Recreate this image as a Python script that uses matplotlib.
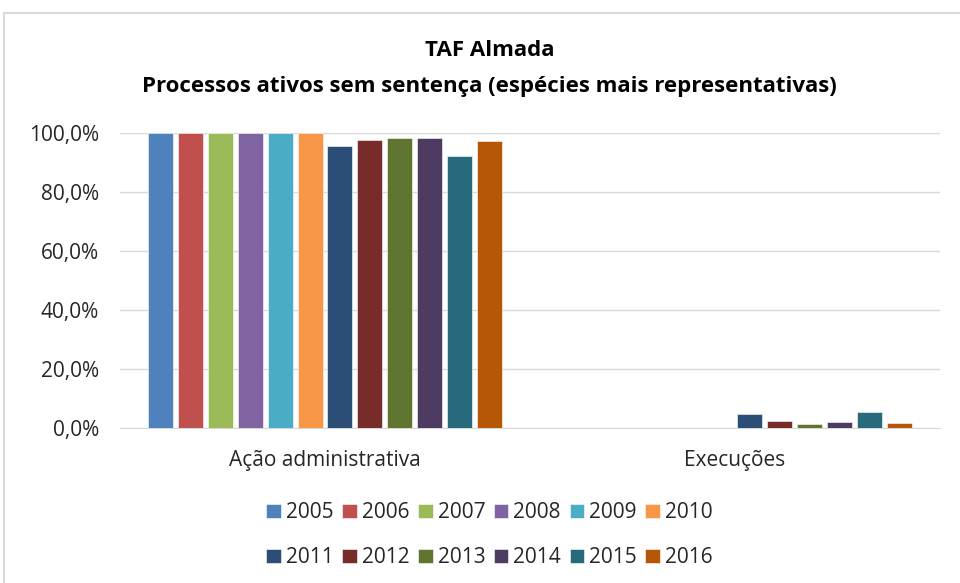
import numpy as np
import matplotlib
matplotlib.use("Agg")
import matplotlib.pyplot as plt
from matplotlib.patches import Rectangle
from matplotlib.ticker import FuncFormatter

plt.rcParams['font.family'] = ['Open Sans', 'DejaVu Sans']

categories = ["Ação administrativa", "Execuções"]
years = ["2005", "2006", "2007", "2008", "2009", "2010",
         "2011", "2012", "2013", "2014", "2015", "2016"]
# share of active cases without sentence, per year: [Ação administrativa, Execuções]
values = {
    "2005": [1.000, 0.000],
    "2006": [1.000, 0.000],
    "2007": [1.000, 0.000],
    "2008": [1.000, 0.000],
    "2009": [1.000, 0.000],
    "2010": [1.000, 0.000],
    "2011": [0.956, 0.047],
    "2012": [0.976, 0.024],
    "2013": [0.983, 0.012],
    "2014": [0.983, 0.019],
    "2015": [0.922, 0.054],
    "2016": [0.973, 0.015],
}
colors = ["#4F81BD", "#C0504D", "#9BBB59", "#8064A2", "#4BACC6", "#F79646",
          "#2C4D75", "#772C2A", "#5F7530", "#4D3B62", "#276A7C", "#B65708"]

fig = plt.figure(figsize=(9.6, 5.83), dpi=100)
ax = fig.add_axes([0.125, 0.266, 0.854, 0.506])

x = np.arange(len(categories))
slot = 0.0728
bw = 0.061
n = len(years)
for i, yr in enumerate(years):
    off = (i - (n - 1) / 2) * slot
    ax.bar(x + off, values[yr], width=bw, color=colors[i], label=yr,
           edgecolor="white", linewidth=0.4, zorder=3)

ax.set_xlim(-0.5, 1.5)
ax.set_ylim(0, 1.0)
ax.set_yticks(np.arange(0, 1.01, 0.2))
ax.yaxis.set_major_formatter(FuncFormatter(lambda v, p: f"{v*100:.1f}%".replace(".", ",")))
ax.set_xticks(x)
ax.set_xticklabels(categories)
ax.tick_params(axis="both", length=0, labelsize=15, colors="#262626")
ax.tick_params(axis="y", pad=15)
ax.tick_params(axis="x", pad=16)
ax.grid(axis="y", color="#D9D9D9", linewidth=1, zorder=0)
for s in ["top", "right", "left"]:
    ax.spines[s].set_visible(False)
ax.spines["bottom"].set_color("#D9D9D9")

fig.text(0.51, 0.913, "TAF Almada", ha="center", va="center",
         fontsize=16, fontweight="bold", color="#000000")
fig.text(0.51, 0.851, "Processos ativos sem sentença (espécies mais representativas)",
         ha="center", va="center", fontsize=16, fontweight="bold", color="#000000")

# legend filled row by row (matplotlib fills column by column)
handles, labels = ax.get_legend_handles_labels()
order = [k for c in range(6) for k in (c, c + 6)]
fig.legend([handles[k] for k in order], [labels[k] for k in order],
           loc="center", bbox_to_anchor=(0.51, 0.082), ncol=6,
           frameon=False, fontsize=15, handlelength=0.7, handleheight=0.7,
           handletextpad=0.25, columnspacing=0.4, labelspacing=1.15,
           labelcolor="#262626")

fig.patches.append(Rectangle((4 / 960, -0.1), 1.2, 1 - 13 / 583 + 0.1,
                             transform=fig.transFigure, fill=False,
                             edgecolor="#D9D9D9", linewidth=1.5))

fig.savefig("out.png", dpi=100)
